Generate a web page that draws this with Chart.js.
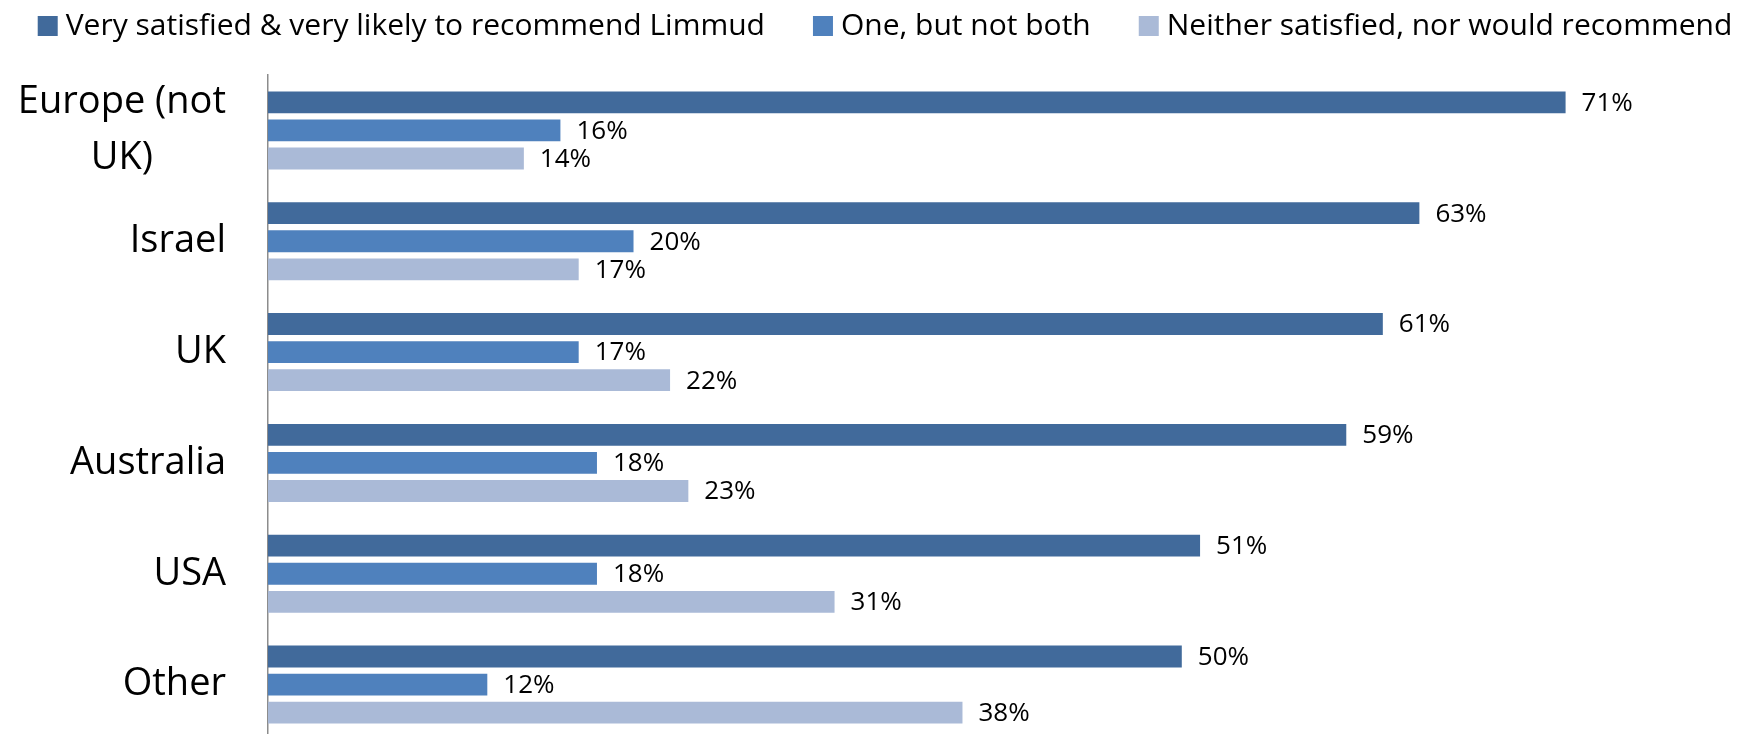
<!DOCTYPE html>
<html lang="en">
<head>
    <meta charset="UTF-8">
    <title>Limmud satisfaction by region</title>
    <script src="https://cdn.jsdelivr.net/npm/chart.js"></script>
    <style>
        html, body {
            margin: 0;
            padding: 0;
            background: #ffffff;
            overflow: hidden;
        }

        /* a little taller than the window: the axis runs off the bottom edge */
        #wrap {
            width: 1752px;
            height: 740px;
        }
    </style>
</head>
<body>
    <div id="wrap"><canvas id="region-chart"></canvas></div>

    <script>
        // Data
        const regions = [['Europe (not', 'UK)'], 'Israel', 'UK', 'Australia', 'USA', 'Other'];
        const seriesNames = [
            'Very satisfied & very likely to recommend Limmud',
            'One, but not both',
            'Neither satisfied, nor would recommend'
        ];
        const verySatisfied = [71, 63, 61, 59, 51, 50];
        const oneNotBoth = [16, 20, 17, 18, 18, 12];
        const neither = [14, 17, 22, 23, 31, 38];

        const colors = ['#416a9b', '#4f81bd', '#aabad7'];
        const fontFamily = '"Open Sans", Arial, sans-serif';

        // Percent labels at the end of every bar
        const barLabels = {
            id: 'barLabels',
            afterDatasetsDraw(chart) {
                const ctx = chart.ctx;
                ctx.save();
                ctx.font = '26px ' + fontFamily;
                ctx.fillStyle = '#000000';
                ctx.textAlign = 'left';
                ctx.textBaseline = 'middle';
                chart.data.datasets.forEach((ds, i) => {
                    chart.getDatasetMeta(i).data.forEach((bar, j) => {
                        ctx.fillText(ds.data[j] + '%', bar.x + 16, bar.y + 1);
                    });
                });
                ctx.restore();
            }
        };

        // Category names, each line centred inside its block (like Excel)
        const categoryLabels = {
            id: 'categoryLabels',
            afterDraw(chart) {
                const ctx = chart.ctx;
                const yScale = chart.scales.y;
                const rightEdge = yScale.right - 42;
                const lineGap = 56;
                ctx.save();
                ctx.font = '38px ' + fontFamily;
                ctx.fillStyle = '#000000';
                ctx.textAlign = 'center';
                ctx.textBaseline = 'middle';
                regions.forEach((label, i) => {
                    const lines = Array.isArray(label) ? label : [label];
                    const widest = Math.max(...lines.map(l => ctx.measureText(l).width));
                    const cx = rightEdge - widest / 2;
                    const cy = yScale.getPixelForTick(i);
                    lines.forEach((line, k) => {
                        const y = cy + (k - (lines.length - 1) / 2) * lineGap;
                        ctx.fillText(line, cx, y);
                    });
                });
                ctx.restore();
            }
        };

        // Legend row across the top
        const topLegend = {
            id: 'topLegend',
            afterDraw(chart) {
                const ctx = chart.ctx;
                const box = 20;
                const boxGap = 8;
                const itemGap = 48;
                ctx.save();
                ctx.font = '30px ' + fontFamily;
                ctx.textBaseline = 'middle';
                ctx.textAlign = 'left';
                const widths = chart.data.datasets.map(ds => ctx.measureText(ds.label).width);
                const total = widths.reduce((a, w) => a + box + boxGap + w, 0) + itemGap * (widths.length - 1);
                let x = 885 - total / 2;
                const y = 26;
                chart.data.datasets.forEach((ds, i) => {
                    ctx.fillStyle = ds.backgroundColor;
                    ctx.fillRect(x, y - box / 2, box, box);
                    ctx.fillStyle = '#000000';
                    ctx.fillText(ds.label, x + box + boxGap, y);
                    x += box + boxGap + widths[i] + itemGap;
                });
                ctx.restore();
            }
        };

        const ctx = document.getElementById('region-chart').getContext('2d');
        new Chart(ctx, {
            type: 'bar',
            data: {
                labels: regions,
                datasets: [
                    { label: seriesNames[0], data: verySatisfied, backgroundColor: colors[0] },
                    { label: seriesNames[1], data: oneNotBoth, backgroundColor: colors[1] },
                    { label: seriesNames[2], data: neither, backgroundColor: colors[2] }
                ]
            },
            options: {
                indexAxis: 'y',
                responsive: true,
                maintainAspectRatio: false,
                animation: false,
                layout: {
                    padding: { top: 75, right: 0, bottom: 0, left: 0 }
                },
                datasets: {
                    bar: {
                        categoryPercentage: 0.76,
                        barPercentage: 0.78
                    }
                },
                plugins: {
                    legend: { display: false },
                    tooltip: { enabled: false }
                },
                scales: {
                    x: {
                        display: false,
                        min: 0,
                        max: 81.2
                    },
                    y: {
                        afterFit(scale) {
                            scale.width = 268;
                        },
                        grid: { display: false },
                        border: { display: true, color: '#8c8c8c', width: 1.5 },
                        ticks: { display: false }
                    }
                }
            },
            plugins: [barLabels, categoryLabels, topLegend]
        });
    </script>
</body>
</html>
